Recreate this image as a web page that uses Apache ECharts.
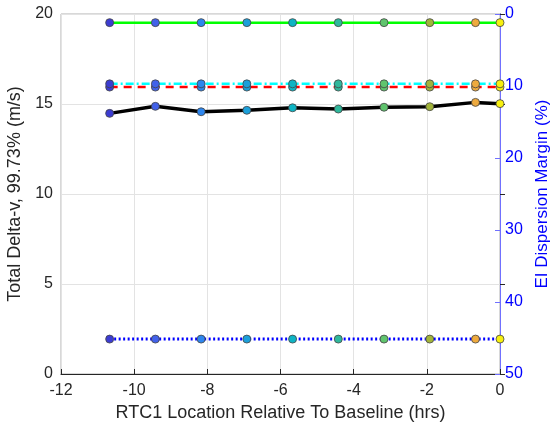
<!DOCTYPE html>
<html>
<head>
<meta charset="utf-8">
<script src="https://cdn.jsdelivr.net/npm/echarts@6/dist/echarts.min.js"></script>
<style>
  html, body { margin: 0; padding: 0; background: #fff; }
  #chart { width: 553px; height: 430px; }
</style>
</head>
<body>
<div id="chart"></div>
<script>
// RTC1 burn location offsets (hrs relative to baseline)
const rtcHours = [-10.67, -9.42, -8.17, -6.92, -5.67, -4.42, -3.17, -1.92, -0.67, 0];

// Total delta-v, 99.73% (m/s)
const deltaV = [14.48, 14.87, 14.57, 14.65, 14.79, 14.72, 14.82, 14.85, 15.09, 15.02];

// Reference levels plotted against the delta-v scale
const greenLevel = [19.52, 19.52, 19.52, 19.52, 19.52, 19.52, 19.52, 19.52, 19.52, 19.52];
const cyanLevel  = [16.12, 16.12, 16.12, 16.12, 16.12, 16.12, 16.12, 16.12, 16.12, 16.12];
const redLevel   = [15.94, 15.94, 15.94, 15.94, 15.94, 15.94, 15.94, 15.94, 15.94, 15.94];
const blueLevel  = [1.94, 1.94, 1.94, 1.94, 1.94, 1.94, 1.94, 1.94, 1.94, 1.94];

// Marker fill for each burn location (blue -> yellow colormap)
const markerColors = ['#3c3cd2', '#4262ea', '#2d86ee', '#1ca0da', '#0eb4c4',
                      '#2fb89c', '#60c46e', '#a2b43a', '#eeaa3e', '#f7f00f'];

const xTicks = [-12, -10, -8, -6, -4, -2, 0];
const leftTicks = [0, 5, 10, 15, 20];
const rightTicks = [0, 10, 20, 30, 40, 50];

const FONT = 'Liberation Sans, Arial, sans-serif';

function pts(ys) {
  return rtcHours.map((x, i) => ({
    value: [x, ys[i]],
    itemStyle: { color: markerColors[i], borderColor: '#444', borderWidth: 0.8 }
  }));
}

function lineSeries(ys, color, width, type, z) {
  return {
    type: 'line',
    data: pts(ys),
    yAxisIndex: 0,
    symbol: 'circle',
    symbolSize: 8,
    lineStyle: { color: color, width: width, type: type },
    z: z,
    animation: false
  };
}

const chart = echarts.init(document.getElementById('chart'), null, { renderer: 'canvas' });

chart.setOption({
  backgroundColor: '#ffffff',
  animation: false,
  grid: {
    left: 61, right: 53, top: 14, bottom: 56,
    containLabel: false,
    outerBoundsMode: 'none',
    show: true, borderColor: '#b0b0b0', borderWidth: 1, backgroundColor: 'transparent'
  },
  xAxis: {
    type: 'value',
    min: -12, max: 0, interval: 2,
    name: 'RTC1 Location Relative To Baseline (hrs)',
    nameLocation: 'middle',
    nameGap: 30,
    nameTextStyle: { fontFamily: FONT, fontSize: 18, color: '#262626' },
    axisLine: { show: true, onZero: false, lineStyle: { color: '#262626', width: 1 } },
    axisTick: { show: true, inside: true, length: 5, lineStyle: { color: '#262626' } },
    axisLabel: {
      fontFamily: FONT, fontSize: 16, color: '#262626', margin: 9,
      formatter: v => xTicks.includes(v) ? String(v) : ''
    },
    splitLine: { show: true, lineStyle: { color: '#e3e3e3', width: 1 } }
  },
  yAxis: [
    {
      type: 'value',
      min: 0, max: 20, interval: 5,
      position: 'left',
      name: 'Total Delta-v, 99.73% (m/s)',
      nameLocation: 'middle',
      nameGap: 28,
      nameRotate: 90,
      nameTextStyle: { fontFamily: FONT, fontSize: 18, color: '#262626' },
      axisLine: { show: true, lineStyle: { color: '#262626', width: 1 } },
      axisTick: { show: true, inside: true, length: 5, lineStyle: { color: '#262626' } },
      axisLabel: {
        fontFamily: FONT, fontSize: 16, color: '#262626', margin: 8,
        formatter: v => leftTicks.includes(v) ? String(v) : ''
      },
      splitLine: { show: true, lineStyle: { color: '#e3e3e3', width: 1 } }
    },
    {
      type: 'value',
      min: 0, max: 50, interval: 10,
      inverse: true,
      position: 'right',
      name: 'EI Dispersion Margin (%)',
      nameLocation: 'middle',
      nameGap: 31,
      nameRotate: 90,
      nameTextStyle: { fontFamily: FONT, fontSize: 17, color: '#0000ff' },
      axisLine: { show: true, lineStyle: { color: '#7070ff', width: 1 } },
      axisTick: { show: true, inside: true, length: 5, lineStyle: { color: '#7070ff' } },
      axisLabel: {
        fontFamily: FONT, fontSize: 16, color: '#0000ff', margin: 5,
        formatter: v => rightTicks.includes(v) ? String(v) : ''
      },
      splitLine: { show: false }
    }
  ],
  series: [
    lineSeries(blueLevel, '#0000ff', 3, [2, 2.5], 3),
    lineSeries(redLevel, '#ff0000', 2.5, [8, 6], 4),
    lineSeries(cyanLevel, '#00ffff', 2.5, [8, 3, 2, 3], 5),
    lineSeries(greenLevel, '#00ff00', 2.5, 'solid', 6),
    lineSeries(deltaV, '#000000', 3.5, 'solid', 7)
  ]
});
</script>
</body>
</html>
